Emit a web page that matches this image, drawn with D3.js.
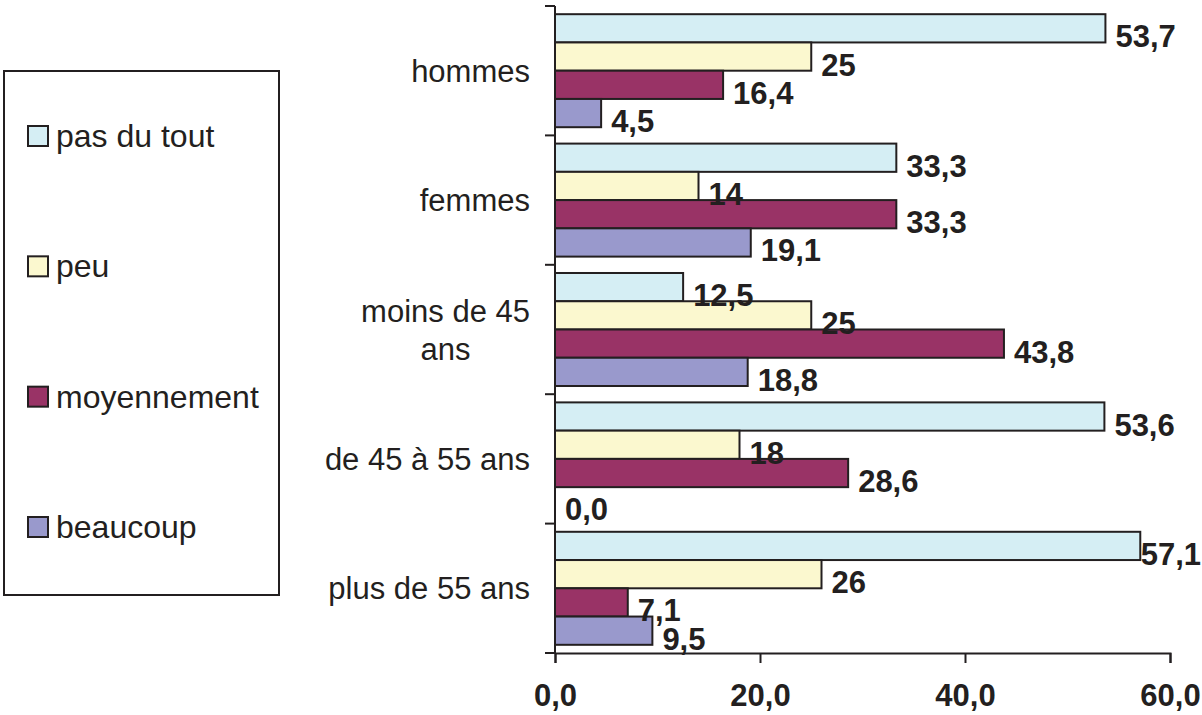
<!DOCTYPE html>
<html>
<head>
<meta charset="utf-8">
<script src="https://cdn.jsdelivr.net/npm/d3@7"></script>
<style>
  body { margin: 0; background: #fff; }
  svg text { font-family: "Liberation Sans", Arial, sans-serif; fill: #231f20; }
</style>
</head>
<body>
<div id="chart"></div>
<script>
// categories (top to bottom) and their wrapped label lines
const categories = ['hommes', 'femmes', 'moins de 45 ans', 'de 45 à 55 ans', 'plus de 55 ans'];
const categoryLines = [['hommes'], ['femmes'], ['moins de 45', 'ans'], ['de 45 à 55 ans'], ['plus de 55 ans']];

const seriesNames = ['pas du tout', 'peu', 'moyennement', 'beaucoup'];
const seriesColors = ['#d5eef4', '#fbf8cf', '#993366', '#9999cc'];

// values per series, in category order
const pasDuTout = [53.7, 33.3, 12.5, 53.6, 57.1];
const peu = [25, 14, 25, 18, 26];
const moyennement = [16.4, 33.3, 43.8, 28.6, 7.1];
const beaucoup = [4.5, 19.1, 18.8, 0.0, 9.5];

// data labels as printed on the chart
const pasDuToutLabels = ['53,7', '33,3', '12,5', '53,6', '57,1'];
const peuLabels = ['25', '14', '25', '18', '26'];
const moyennementLabels = ['16,4', '33,3', '43,8', '28,6', '7,1'];
const beaucoupLabels = ['4,5', '19,1', '18,8', '0,0', '9,5'];

const xTicks = [0, 20, 40, 60];
const xTickLabels = ['0,0', '20,0', '40,0', '60,0'];

const seriesValues = [pasDuTout, peu, moyennement, beaucoup];
const seriesLabels = [pasDuToutLabels, peuLabels, moyennementLabels, beaucoupLabels];

const W = 1202, H = 715;
const margin = { top: 6, right: 32, bottom: 62, left: 555 };
const width = W - margin.left - margin.right,
  height = H - margin.top - margin.bottom;

const svg = d3.select('#chart').append('svg')
  .attr('width', W)
  .attr('height', H);

const g = svg.append('g')
  .attr('transform', `translate(${margin.left},${margin.top})`);

const x = d3.scaleLinear().domain([0, 60]).range([0, width]);
const y = d3.scaleBand().domain(categories).range([0, height]).padding(0);
const ySub = d3.scaleBand().domain(seriesNames).range([0, y.bandwidth()])
  .paddingInner(0).paddingOuter(0.29);

// bars
const rows = [];
categories.forEach((c, ci) => {
  seriesNames.forEach((s, si) => {
    rows.push({ cat: c, ci, series: s, si, value: seriesValues[si][ci], label: seriesLabels[si][ci] });
  });
});

g.selectAll('rect.bar')
  .data(rows.filter((d) => d.value > 0))
  .enter().append('rect')
  .attr('class', 'bar')
  .attr('x', x(0))
  .attr('y', (d) => y(d.cat) + ySub(d.series))
  .attr('width', (d) => x(d.value) - x(0))
  .attr('height', ySub.bandwidth())
  .attr('fill', (d) => seriesColors[d.si])
  .attr('stroke', '#231f20')
  .attr('stroke-width', 2);

// value labels
g.selectAll('text.val')
  .data(rows)
  .enter().append('text')
  .attr('class', 'val')
  .attr('y', (d) => y(d.cat) + ySub(d.series) + ySub.bandwidth() / 2 + 19)
  .style('font-size', '31px')
  .style('font-weight', 'bold')
  .text((d) => d.label)
  .attr('x', function (d) {
    const w = this.getComputedTextLength();
    return Math.min(x(d.value) + 10, W - margin.left - w - 1);
  });

// x axis
g.append('g')
  .attr('transform', `translate(0,${height})`)
  .call(d3.axisBottom(x).tickValues(xTicks).tickSize(10).tickSizeOuter(10)
    .tickFormat((d, i) => xTickLabels[i]))
  .call((a) => a.selectAll('path, line').attr('stroke', '#231f20').attr('stroke-width', 2))
  .call((a) => a.selectAll('text')
    .attr('y', 0).attr('dy', 0)
    .attr('transform', 'translate(0,53)')
    .style('font-size', '31px')
    .style('font-weight', 'bold')
    .attr('fill', '#231f20'));

// y axis line and boundary ticks
g.append('line')
  .attr('x1', 0).attr('x2', 0)
  .attr('y1', 0).attr('y2', height)
  .attr('stroke', '#231f20').attr('stroke-width', 2);

const bounds = categories.map((c) => y(c)).concat([height]);
g.selectAll('line.ytick')
  .data(bounds)
  .enter().append('line')
  .attr('class', 'ytick')
  .attr('x1', -10).attr('x2', 0)
  .attr('y1', (d) => d).attr('y2', (d) => d)
  .attr('stroke', '#231f20').attr('stroke-width', 2);

// category labels
const catG = g.selectAll('g.cat')
  .data(categories)
  .enter().append('g')
  .attr('class', 'cat');

catG.each(function (c, i) {
  const lines = categoryLines[i];
  const cy = y(c) + y.bandwidth() / 2;
  const lh = 38;
  const t = d3.select(this).append('text')
    .style('font-size', '31px');
  lines.forEach((ln, li) => {
    t.append('tspan')
      .attr('y', cy + 11 + (li - (lines.length - 1) / 2) * lh)
      .text(ln);
  });
  if (lines.length === 1) {
    t.attr('text-anchor', 'end').selectAll('tspan').attr('x', -25);
  } else {
    let maxW = 0;
    t.selectAll('tspan').each(function () { maxW = Math.max(maxW, this.getComputedTextLength()); });
    t.attr('text-anchor', 'middle').selectAll('tspan').attr('x', -25 - maxW / 2);
  }
});

// legend
const legend = svg.append('g');
legend.append('rect')
  .attr('x', 4).attr('y', 71)
  .attr('width', 275).attr('height', 524)
  .attr('fill', '#fff')
  .attr('stroke', '#231f20').attr('stroke-width', 2);

const legendY = d3.scalePoint().domain(seriesNames).range([136, 527]);

const item = legend.selectAll('g.item')
  .data(seriesNames)
  .enter().append('g')
  .attr('class', 'item')
  .attr('transform', (d) => `translate(28,${legendY(d)})`);

item.append('rect')
  .attr('x', 0).attr('y', -10)
  .attr('width', 20).attr('height', 20)
  .attr('fill', (d, i) => seriesColors[i])
  .attr('stroke', '#231f20').attr('stroke-width', 2);

item.append('text')
  .attr('x', 28).attr('y', 11)
  .style('font-size', '32px')
  .text((d) => d);
</script>
</body>
</html>
